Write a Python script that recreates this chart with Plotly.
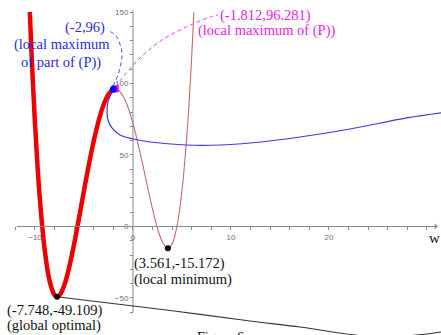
import plotly.graph_objects as go

# ---- data -------------------------------------------------------------
# objective P(w), sampled along the plotted branch (clipped at 150)
W_P = [-10.53, -10.5, -10.25, -10.0, -9.75, -9.5, -9.0, -8.5, -8.0, -7.748,
       -7.5, -7.0, -6.5, -6.0, -5.5, -5.0, -4.5, -4.0, -3.5, -3.0, -2.5,
       -2.0, -1.812, -1.5, -1.0, -0.5, 0.0, 0.5, 1.0, 1.5, 2.0, 2.5, 3.0,
       3.5, 3.561, 4.0, 4.5, 5.0, 5.5, 5.75, 6.0, 6.215]
P_VALS = [150.0, 145.0, 105.8, 72.0, 43.2, 19.0, -16.88, -38.37, -48.0, -49.109,
          -48.12, -40.88, -28.24, -12.0, 6.26, 25.13, 43.38, 60.0, 74.13, 85.13, 92.51,
          96.0, 96.281, 95.51, 91.13, 83.13, 72.0, 58.38, 43.13, 27.26, 12.0, -1.24, -10.88,
          -15.11, -15.172, -12.0, 0.63, 25.13, 64.0, 89.7, 120.0, 150.0]

# feasible part of P (thick branch ends at w = -2)
W_PART_END = -2.0

# boundary curve (blue)
W_BLUE = [-2.0, -2.55, -2.65, -2.55, -2.14, -1.33, 0.0, 1.73, 5.41, 8.88,
          11.94, 17.04, 22.14, 27.96, 31.43]
Y_BLUE = [96.0, 87.1, 80.1, 74.5, 68.9, 64.0, 61.2, 59.1, 57.0, 57.0,
          58.4, 62.6, 68.2, 75.9, 79.4]

# lower curve (black) leaving the global optimum
W_BLACK = [-7.748, -3.37, 1.73, 6.84, 11.94, 17.04, 19.08, 21.12, 23.16,
           26.22, 29.59, 31.43]
Y_BLACK = [-49.109, -52.8, -57.0, -61.5, -66.1, -70.3, -72.4, -74.5, -76.2,
           -77.3, -75.5, -73.8]

# dashed leader curves to the labels
W_LEAD_BLUE = [-2.04, -1.53, -1.22, -1.12, -1.33, -1.73, -2.55]
Y_LEAD_BLUE = [98.3, 106.0, 114.3, 120.6, 127.6, 133.2, 137.4]
W_LEAD_MAG = [-1.73, -1.12, 0.31, 1.73, 3.27, 4.80, 6.33, 7.86, 8.67]
Y_LEAD_MAG = [97.6, 103.8, 115.0, 124.1, 131.8, 137.4, 142.3, 146.5, 147.9]

# marked points
PT_PART_MAX = (-2.0, 96.0)
PT_LOCAL_MAX = (-1.812, 96.281)
PT_GLOBAL = (-7.748, -49.109)
PT_LOCAL_MIN = (3.561, -15.172)

X_TICKS = [-10, 0, 10, 20]
X_MINOR = [-12, -8, -6, -4, -2, 2, 4, 6, 8, 12, 14, 16, 18, 22, 24, 26, 28, 30]
Y_TICKS = [-50, 0, 50, 100, 150]
Y_MINOR = [-60, -40, -30, -20, -10, 10, 20, 30, 40, 60, 70, 80, 90,
           110, 120, 130, 140]

X_RANGE = [-13.57, 31.43]
Y_RANGE = [-75.9, 158.4]

W, H = 441, 335
SERIF = "Liberation Serif, Times New Roman, serif"
AXIS_GREY = "#8a8a8a"

# ---- figure -----------------------------------------------------------
fig = go.Figure()

# thin full branch of P
fig.add_trace(go.Scatter(x=W_P, y=P_VALS, mode="lines", line_shape="spline",
                         line=dict(color="#c46a68", width=1.1),
                         hoverinfo="skip"))
# thick part of P
part = [(w, p) for w, p in zip(W_P, P_VALS) if w <= W_PART_END]
fig.add_trace(go.Scatter(x=[a for a, _ in part], y=[b for _, b in part],
                         mode="lines", line_shape="spline",
                         line=dict(color="#ee0000", width=4.5),
                         hoverinfo="skip"))
# blue boundary
fig.add_trace(go.Scatter(x=W_BLUE, y=Y_BLUE, mode="lines", line_shape="spline",
                         line=dict(color="#3a3ae6", width=1.2),
                         hoverinfo="skip"))
# black curve
fig.add_trace(go.Scatter(x=W_BLACK, y=Y_BLACK, mode="lines", line_shape="spline",
                         line=dict(color="#333333", width=1.1),
                         hoverinfo="skip"))
# dashed leaders
fig.add_trace(go.Scatter(x=W_LEAD_BLUE, y=Y_LEAD_BLUE, mode="lines", line_shape="spline",
                         line=dict(color="#4a4ae8", width=1, dash="4px,3px"),
                         hoverinfo="skip"))
fig.add_trace(go.Scatter(x=W_LEAD_MAG, y=Y_LEAD_MAG, mode="lines", line_shape="spline",
                         line=dict(color="#ee44ee", width=1, dash="4px,3px"),
                         hoverinfo="skip"))
# points
fig.add_trace(go.Scatter(x=[PT_LOCAL_MAX[0]], y=[PT_LOCAL_MAX[1]], mode="markers",
                         marker=dict(color="#ff00ff", size=7, symbol="square"),
                         hoverinfo="skip"))
fig.add_trace(go.Scatter(x=[PT_PART_MAX[0]], y=[PT_PART_MAX[1]], mode="markers",
                         marker=dict(color="#0000ff", size=7),
                         hoverinfo="skip"))
fig.add_trace(go.Scatter(x=[PT_GLOBAL[0], PT_LOCAL_MIN[0]],
                         y=[PT_GLOBAL[1], PT_LOCAL_MIN[1]], mode="markers",
                         marker=dict(color="#000000", size=6),
                         hoverinfo="skip"))

# axes crossing at the origin
xfrac0 = (0 - X_RANGE[0]) / (X_RANGE[1] - X_RANGE[0])
yfrac0 = (0 - Y_RANGE[0]) / (Y_RANGE[1] - Y_RANGE[0])

tickfont = dict(family="Liberation Sans, Arial, sans-serif", size=8, color="#707070")
fig.update_xaxes(range=X_RANGE, anchor="free", position=yfrac0,
                 showgrid=False, zeroline=False, showline=False,
                 tickmode="array", tickvals=X_TICKS, ticks="outside",
                 ticklen=3, tickcolor=AXIS_GREY, tickfont=tickfont,
                 minor=dict(tickmode="array", tickvals=X_MINOR, ticks="outside",
                            ticklen=3, tickcolor=AXIS_GREY, showgrid=False))
fig.update_yaxes(range=Y_RANGE, anchor="free", position=xfrac0,
                 showgrid=False, zeroline=False, showline=False,
                 tickmode="array", tickvals=Y_TICKS, ticks="outside",
                 ticklen=3, tickcolor=AXIS_GREY, tickfont=tickfont,
                 minor=dict(tickmode="array", tickvals=Y_MINOR, ticks="outside",
                            ticklen=3, tickcolor=AXIS_GREY, showgrid=False))

# axis lines
fig.add_shape(type="line", x0=0, x1=0, y0=-60, y1=151, xref="x", yref="y",
              line=dict(color=AXIS_GREY, width=1), layer="below")
fig.add_annotation(x=31.1, y=0, ax=-12, ay=0, xref="x", yref="y",
                   axref="x", ayref="y", showarrow=True, arrowhead=1,
                   arrowsize=1, arrowwidth=1, arrowcolor=AXIS_GREY, text="")


def label(text, px, py, color, size=14.5):
    fig.add_annotation(x=(px - 2) / W, y=1 - py / H, xref="paper", yref="paper",
                       text=text, showarrow=False, xanchor="left", yanchor="middle",
                       font=dict(family=SERIF, size=size, color=color))


BLUE_TXT = "#2b2be6"
MAG_TXT = "#ee22ee"
BLK_TXT = "#111111"
label("(-2,96)", 65, 28, BLUE_TXT)
label("(local maximum", 14, 45, BLUE_TXT)
label("of part of (P))", 21, 62, BLUE_TXT)
label("(-1.812,96.281)", 220, 15, MAG_TXT)
label("(local maximum of (P))", 198, 31, MAG_TXT)
label("(3.561,-15.172)", 134, 263, BLK_TXT)
label("(local minimum)", 134, 279, BLK_TXT)
label("(-7.748,-49.109)", 7, 310, BLK_TXT)
label("(global optimal)", 7, 325, BLK_TXT)
label("w", 429, 238, BLK_TXT, 15)
label("Figure 6", 197, 337, BLK_TXT, 14)

fig.update_layout(width=W, height=H, margin=dict(l=0, r=0, t=0, b=0),
                  paper_bgcolor="white", plot_bgcolor="white",
                  showlegend=False)

fig.write_html("out.html")
